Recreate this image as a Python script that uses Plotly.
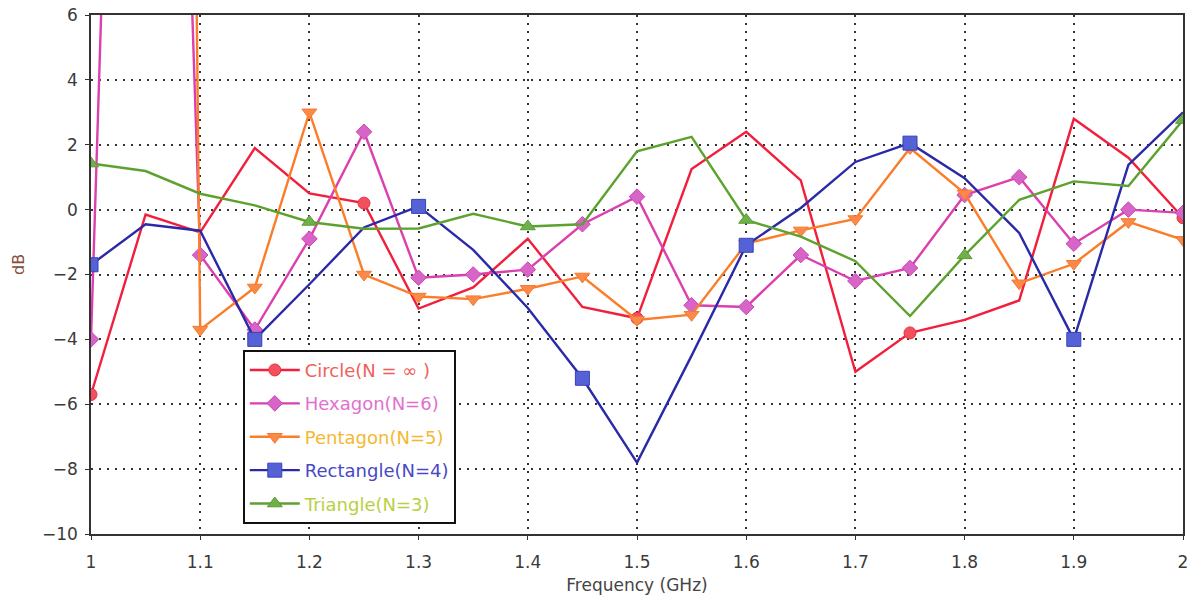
import plotly.graph_objects as go

freq = [1.0, 1.05, 1.1, 1.15, 1.2, 1.25, 1.3, 1.35, 1.4, 1.45, 1.5,
        1.55, 1.6, 1.65, 1.7, 1.75, 1.8, 1.85, 1.9, 1.95, 2.0]

circle = [-5.7, -0.15, -0.7, 1.9, 0.5, 0.2, -3.05, -2.4, -0.9, -3.0, -3.35,
          1.25, 2.4, 0.9, -5.0, -3.8, -3.4, -2.8, 2.8, 1.6, -0.25]
hexagon = [-4.0, 50.0, -1.4, -3.7, -0.9, 2.4, -2.1, -2.0, -1.85, -0.45, 0.4,
           -2.95, -3.0, -1.4, -2.2, -1.8, 0.45, 1.0, -1.05, 0.0, -0.1]
pentagon = [100.0, 150.0, -3.7, -2.4, 3.0, -2.0, -2.68, -2.76, -2.44, -2.06, -3.4,
            -3.24, -1.05, -0.64, -0.29, 1.9, 0.5, -2.27, -1.67, -0.38, -0.93]
rectangle = [-1.7, -0.45, -0.65, -4.0, -2.3, -0.55, 0.1, -1.24, -3.03, -5.2, -7.8,
             -4.5, -1.1, 0.05, 1.47, 2.05, 0.97, -0.72, -4.0, 1.38, 3.0]
triangle = [1.42, 1.19, 0.49, 0.13, -0.38, -0.59, -0.58, -0.13, -0.52, -0.45, 1.8,
            2.24, -0.32, -0.83, -1.59, -3.28, -1.41, 0.3, 0.87, 0.73, 2.76]

x_ticks = [1.0, 1.1, 1.2, 1.3, 1.4, 1.5, 1.6, 1.7, 1.8, 1.9, 2.0]
x_tick_labels = ["1", "1.1", "1.2", "1.3", "1.4", "1.5", "1.6", "1.7", "1.8", "1.9", "2"]
y_ticks = [-10, -8, -6, -4, -2, 0, 2, 4, 6]

series = [
    # name, values, line colour, marker fill, marker edge, symbol, size, marker step, start index, text colour
    ("Circle(N = \u221e )", circle, "#f21f3c", "#f2505f", "#e8303f", "circle", 12, 5, 0, "#f0605a"),
    ("Hexagon(N=6)", hexagon, "#dc3fae", "#d765c8", "#cc44b0", "diamond", 12, 1, 0, "#e070d0"),
    ("Pentagon(N=5)", pentagon, "#fb7d2a", "#fb8a48", "#f47a30", "triangle-down", 13, 1, 2, "#f4b830"),
    ("Rectangle(N=4)", rectangle, "#2a2aa8", "#5562d6", "#3a40b8", "square", 14, 3, 0, "#4848c8"),
    ("Triangle(N=3)", triangle, "#5da22e", "#6fb048", "#5a9a35", "triangle-up", 13, 4, 0, "#b8d040"),
]

fig = go.Figure()
for i, (name, vals, lc, mf, me, sym, ms, step, start, tc) in enumerate(series):
    grp = "g%d" % i
    fig.add_trace(go.Scatter(
        x=freq, y=vals, mode="lines",
        line=dict(color=lc, width=2.4),
        showlegend=False, legendgroup=grp, hoverinfo="skip"))
    idx = list(range(start, len(freq), step))
    fig.add_trace(go.Scatter(
        x=[freq[k] for k in idx], y=[vals[k] for k in idx], mode="markers",
        marker=dict(symbol=sym, size=ms, color=mf, line=dict(color=me, width=1)),
        showlegend=False, legendgroup=grp))
    fig.add_trace(go.Scatter(
        x=[None], y=[None], mode="lines+markers",
        name='<span style="color:%s">%s</span>' % (tc, name),
        line=dict(color=lc, width=2.4),
        marker=dict(symbol=sym, size=ms, color=mf, line=dict(color=me, width=1)),
        legendgroup=grp, showlegend=True))

grid = dict(showgrid=True, gridcolor="#333333", griddash="2px,6px", gridwidth=1.5)

fig.update_layout(
    width=1193, height=602,
    margin=dict(l=91, r=10, t=15, b=68),
    paper_bgcolor="white", plot_bgcolor="white",
    font=dict(family="DejaVu Sans", size=17, color="#3a3a3a"),
    xaxis=dict(range=[1, 2], tickvals=x_ticks, ticktext=x_tick_labels,
               showline=True, linecolor="#333333", linewidth=1.5, mirror=True,
               ticks="outside", ticklen=4, tickcolor="#333333",
               ticklabelstandoff=8, automargin=False,
               zeroline=False,
               title=dict(text="Frequency (GHz)", font=dict(size=17, color="#444444"), standoff=8),
               **grid),
    yaxis=dict(range=[-10, 6], tickvals=y_ticks,
               showline=True, linecolor="#333333", linewidth=1.5, mirror=True,
               ticks="outside", ticklen=4, tickcolor="#333333",
               ticklabelstandoff=4, automargin=False,
               zeroline=False,
               **grid),
    legend=dict(x=0.139, y=0.355, xanchor="left", yanchor="top",
                bgcolor="white", bordercolor="#111111", borderwidth=2,
                font=dict(family="DejaVu Sans", size=18),
                tracegroupgap=7, itemwidth=50),
    annotations=[dict(text="dB", xref="paper", yref="paper", x=-0.067, y=0.52,
                      xanchor="center", yanchor="middle",
                      showarrow=False, textangle=-90,
                      font=dict(size=16, color="#8a4a3a"))],
)

fig.write_html("out.html")
